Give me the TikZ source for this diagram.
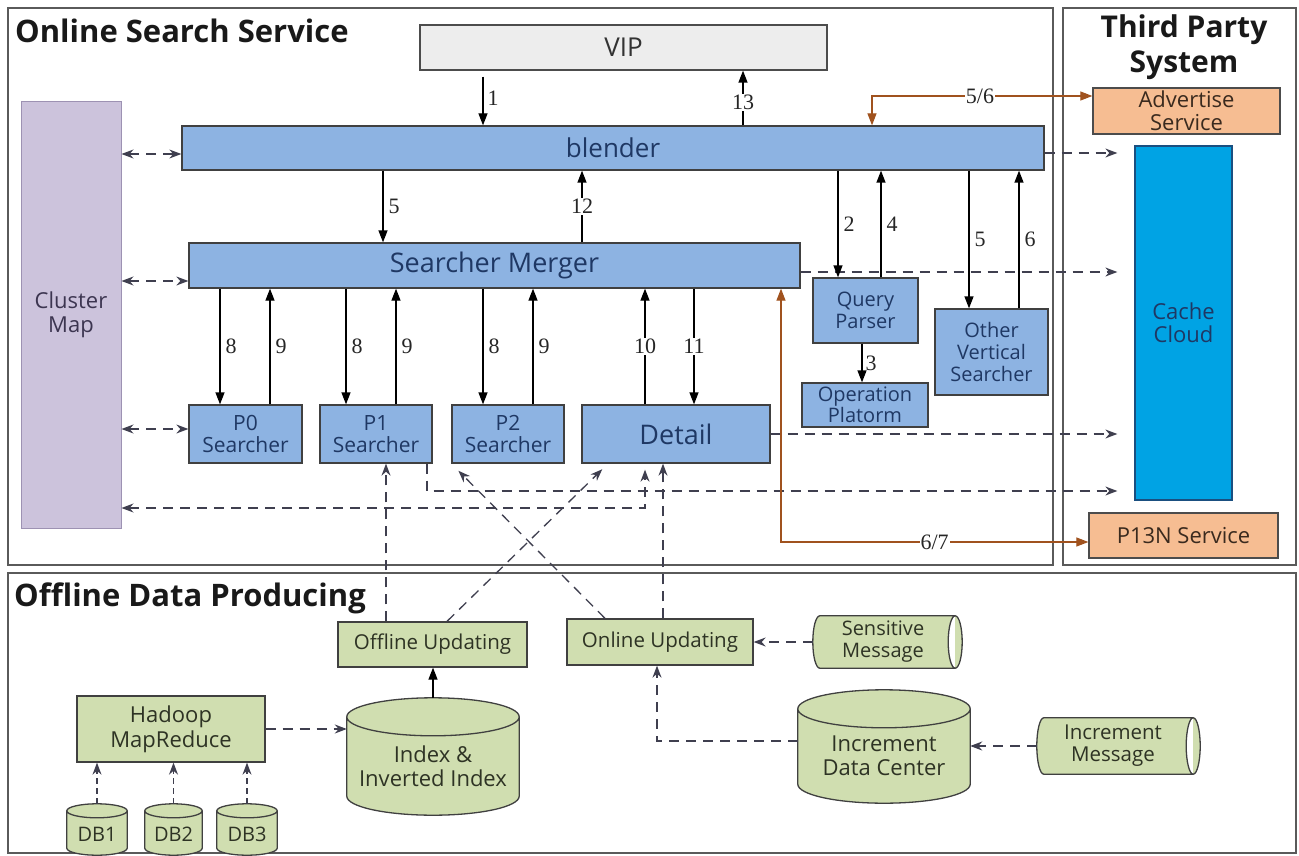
\documentclass[tikz,border=0pt]{standalone}
\usepackage{fontspec}
\setmainfont{Open Sans}
\newfontfamily\numfont{Liberation Serif}
\usetikzlibrary{arrows.meta,calc}
\definecolor{boxblue}{HTML}{8DB3E2}
\definecolor{navy}{HTML}{1F3864}
\definecolor{boxgreen}{HTML}{D0DEB0}
\definecolor{gtext}{HTML}{2E3324}
\definecolor{peach}{HTML}{F6BD92}
\definecolor{otext}{HTML}{3A2A1E}
\definecolor{cachec}{HTML}{00A3E4}
\definecolor{cacheb}{HTML}{1A4F80}
\definecolor{lav}{HTML}{CCC3DC}
\definecolor{lavb}{HTML}{9D92B3}
\definecolor{lavt}{HTML}{3C3550}
\definecolor{vipgray}{HTML}{EDEDED}
\definecolor{brownarr}{HTML}{A0521E}
\definecolor{dashc}{HTML}{3F3F4F}
\definecolor{framec}{HTML}{5A5A5A}

\newcommand\vcylinder[2]{%
 \filldraw[cyl] let \p1=(#1.north west), \p2=(#1.south east), \n1={(\x2-\x1)/2} in
 (\x1,\y1-#2) -- (\x1,\y2+#2) arc[start angle=180,end angle=360,x radius={\n1*1pt},y radius=#2]
 -- (\x2,\y1-#2) arc[start angle=0,end angle=180,x radius={\n1*1pt},y radius=#2] -- cycle
 (\x1,\y1-#2) arc[start angle=180,end angle=360,x radius={\n1*1pt},y radius=#2];}
\newcommand\hcylinder[2]{%
 \filldraw[cyl] let \p1=(#1.north west), \p2=(#1.south east), \n1={(\y1-\y2)/2} in
 (\x1+#2,\y1) -- (\x2-#2,\y1) arc[start angle=90,end angle=-90,x radius=#2,y radius={\n1*1pt}]
 -- (\x1+#2,\y2) arc[start angle=270,end angle=90,x radius=#2,y radius={\n1*1pt}] -- cycle
 (\x2-#2,\y1) arc[start angle=90,end angle=270,x radius=#2,y radius={\n1*1pt}];}

\tikzset{
 bbox/.style={draw=black!75, line width=1.3pt, fill=boxblue, text=navy, align=center, inner sep=0pt, font=\fontsize{21}{22}\selectfont},
 gbox/.style={draw=black!75, line width=1.3pt, fill=boxgreen, text=gtext, align=center, inner sep=0pt, font=\fontsize{20.5}{23}\selectfont},
 obox/.style={draw=black!70, line width=1.3pt, fill=peach, text=otext, align=center, inner sep=0pt, font=\fontsize{22}{23}\selectfont},
 ghost/.style={draw=none, inner sep=0pt},
 gtxt/.style={text=gtext, align=center, inner sep=0pt, font=\fontsize{20}{22}\selectfont},
 cyl/.style={draw=black!75, line width=1.3pt, fill=boxgreen},
 num/.style={font=\numfont\fontsize{22}{22}\selectfont, text=black!85, inner sep=1pt},
 arr/.style={line width=1.3pt, -{Triangle[length=12pt,width=9pt]}},
 darr/.style={line width=1.3pt, draw=dashc, dash pattern=on 10pt off 7pt, -{Stealth[length=12pt,width=9pt]}},
 ddarr/.style={darr, {Stealth[length=12pt,width=9pt]}-{Stealth[length=12pt,width=9pt]}},
 barr/.style={line width=1.2pt, draw=brownarr, {Triangle[length=12pt,width=9pt]}-{Triangle[length=12pt,width=9pt]}},
 frame/.style={draw=framec, line width=1.8pt},
 ttl/.style={inner sep=0pt, text=black!90, font=\bfseries\fontsize{31}{35}\selectfont},
}

\begin{document}
\begin{tikzpicture}[x=1pt,y=-1pt]
\useasboundingbox (0,0) rectangle (1299,856);

% frames
\draw[frame] (8,8) rectangle (1053,565);
\draw[frame] (1063,8) rectangle (1296,565);
\draw[frame] (8,573) rectangle (1296,853);

% titles
\node[ttl, anchor=west] (t1) at (15,31) {Online Search Service};
\node[ttl, align=center, font=\bfseries\fontsize{30}{35}\selectfont] (t2) at (1184,47) {Third Party\\System};
\node[ttl, anchor=west] (t3) at (14,598) {Offline Data Producing};

% guides
\coordinate (g1) at (483,0);
\coordinate (g13) at (743,0);
\coordinate (g56) at (872,0);
\coordinate (g383) at (383,0);
\coordinate (g582) at (582,0);
\coordinate (g838) at (838,0);
\coordinate (g881) at (881,0);
\coordinate (g969) at (969,0);
\coordinate (g1019) at (1019,0);
\coordinate (g862) at (862,0);
\coordinate (g220) at (220,0);
\coordinate (g270) at (270,0);
\coordinate (g346) at (346,0);
\coordinate (g396) at (396,0);
\coordinate (g483) at (483,0);
\coordinate (g533) at (533,0);
\coordinate (g645) at (645,0);
\coordinate (g694) at (694,0);
\coordinate (g781) at (781,0);
\coordinate (g427) at (427,0);
\coordinate (g386) at (386,0);
\coordinate (g447) at (447,0);
\coordinate (g608) at (608,0);
\coordinate (g605) at (605,0);
\coordinate (g663) at (663,0);
\coordinate (g657) at (657,0);
\coordinate (h96) at (0,96);
\coordinate (h154) at (0,154);
\coordinate (h153) at (0,153);
\coordinate (h281) at (0,281);
\coordinate (h272) at (0,272);
\coordinate (h429) at (0,429);
\coordinate (h491) at (0,491);
\coordinate (h508) at (0,508);
\coordinate (h542) at (0,542);
\coordinate (h741) at (0,741);

% online boxes
\node[draw=black!70, line width=1.3pt, fill=vipgray, text=black!80, inner sep=0pt, font=\fontsize{26}{28}\selectfont, minimum width=407pt, minimum height=45pt] (vip) at (623.5,47.5) {VIP};
\node[bbox, minimum width=862pt, minimum height=44pt, font=\fontsize{26}{28}\selectfont] (blender) at (613,148) {blender};
\node[bbox, minimum width=611pt, minimum height=45pt, font=\fontsize{27}{29}\selectfont] (merger) at (494.5,265.5) {Searcher Merger};
\node[draw=lavb, line width=1pt, fill=lav, text=lavt, align=center, inner sep=0pt, font=\fontsize{22}{24}\selectfont, minimum width=100pt, minimum height=426pt] (cluster) at (71,315) {Cluster\\Map};
\node[bbox, minimum width=113pt, minimum height=58pt] (p0) at (245.5,434) {P0\\Searcher};
\node[bbox, minimum width=112pt, minimum height=58pt] (p1) at (376,434) {P1\\Searcher};
\node[bbox, minimum width=112pt, minimum height=58pt] (p2) at (508,434) {P2\\Searcher};
\node[bbox, minimum width=188pt, minimum height=58pt, font=\fontsize{27}{29}\selectfont] (detail) at (676,434) {Detail};
\node[bbox, minimum width=105pt, minimum height=65pt, font=\fontsize{20}{22}\selectfont] (qp) at (865.5,310.5) {Query\\Parser};
\node[bbox, minimum width=126pt, minimum height=44pt, font=\fontsize{20}{21}\selectfont] (op) at (865,405) {Operation\\Platorm};
\node[bbox, minimum width=113pt, minimum height=86pt, font=\fontsize{20}{22}\selectfont] (ovs) at (991.5,352) {Other\\Vertical\\Searcher};

% third party
\node[obox, minimum width=187pt, minimum height=46pt] (adv) at (1186.5,111) {Advertise\\Service};
\node[draw=cacheb, line width=1.3pt, fill=cachec, text=navy, align=center, inner sep=0pt, font=\fontsize{22}{23}\selectfont, minimum width=97pt, minimum height=354pt] (cache) at (1183.5,323) {Cache\\Cloud};
\node[obox, minimum width=189pt, minimum height=45pt] (p13n) at (1183.5,535.5) {P13N Service};

% offline boxes
\node[gbox, minimum width=189pt, minimum height=45pt] (offup) at (432.5,644.5) {Offline Updating};
\node[gbox, minimum width=186pt, minimum height=46pt] (onup) at (660,642) {Online Updating};
\node[gbox, minimum width=188pt, minimum height=66pt, font=\fontsize{22}{25}\selectfont] (had) at (171,729) {Hadoop\\MapReduce};

% cylinders
\node[ghost, minimum width=149pt, minimum height=52pt] (sens) at (887.5,642) {};
\hcylinder{sens}{7pt}
\node[gtxt] (senst) at (883,642) {Sensitive\\Message};
\node[ghost, minimum width=163pt, minimum height=56pt] (incm) at (1118.5,746) {};
\hcylinder{incm}{7pt}
\node[gtxt, font=\fontsize{20.5}{22}\selectfont] (incmt) at (1113,746) {Increment\\Message};
\node[ghost, minimum width=172pt, minimum height=117pt] (idx) at (433,756.5) {};
\vcylinder{idx}{19pt}
\node[gtxt, font=\fontsize{22}{24}\selectfont] (idxt) at (433,766) {Index \&\\Inverted Index};
\node[ghost, minimum width=172pt, minimum height=113pt] (idc) at (884,746.5) {};
\vcylinder{idc}{19pt}
\node[gtxt, font=\fontsize{22}{24}\selectfont] (idct) at (884,756) {Increment\\Data Center};
\node[ghost, minimum width=60pt, minimum height=51pt] (db1) at (97,829.5) {};
\vcylinder{db1}{7pt}
\node[gtxt] (db1t) at (97,834) {DB1};
\node[ghost, minimum width=57pt, minimum height=51pt] (db2) at (173.5,829.5) {};
\vcylinder{db2}{7pt}
\node[gtxt] (db2t) at (173.5,834) {DB2};
\node[ghost, minimum width=60pt, minimum height=51pt] (db3) at (247,829.5) {};
\vcylinder{db3}{7pt}
\node[gtxt] (db3t) at (247,834) {DB3};

% online connectors
\draw[arr, shorten <=6pt] (vip.south -| g1) -- (blender.north -| g1) node[midway,right=3pt,num]{1};
\draw[arr] (blender.north -| g13) -- (vip.south -| g13) node[pos=0.42,num,fill=white]{13};
\draw[barr] (blender.north -| g56) -- (g56 |- h96) -- (adv.west |- h96) node[pos=0.49,num,fill=white]{5/6};

\draw[ddarr] (cluster.east |- h154) -- (blender.west |- h154);
\draw[ddarr] (cluster.east |- h281) -- (merger.west |- h281);
\draw[ddarr] (cluster.east |- h429) -- (p0.west |- h429);
\draw[ddarr, shorten >=6pt] (cluster.east |- h508) -| (detail.south -| g645);

\draw[darr, shorten >=17pt] (blender.east |- h153) -- (cache.west |- h153);
\draw[darr, shorten >=17pt] (merger.east |- h272) -- (cache.west |- h272);
\draw[darr, shorten >=17pt] (detail.east) -- (cache.west |- detail.east);
\draw[darr, shorten >=17pt] (p1.south -| g427) |- (cache.west |- h491);

\draw[arr] (blender.south -| g383) -- (merger.north -| g383) node[midway,right=4pt,num]{5};
\draw[arr] (merger.north -| g582) -- (blender.south -| g582) node[midway,num,fill=white]{12};
\draw[arr] (blender.south -| g838) -- (qp.north -| g838) node[midway,right=4pt,num]{2};
\draw[arr] (qp.north -| g881) -- (blender.south -| g881) node[midway,right=4pt,num]{4};
\draw[arr] (blender.south -| g969) -- (ovs.north -| g969) node[midway,right=4pt,num]{5};
\draw[arr] (ovs.north -| g1019) -- (blender.south -| g1019) node[midway,right=4pt,num]{6};
\draw[arr] (qp.south -| g862) -- (op.north -| g862) node[midway,right=2pt,num]{3};

\draw[arr] (merger.south -| g220) -- (p0.north -| g220) node[midway,right=4pt,num]{8};
\draw[arr] (p0.north -| g270) -- (merger.south -| g270) node[midway,right=4pt,num]{9};
\draw[arr] (merger.south -| g346) -- (p1.north -| g346) node[midway,right=4pt,num]{8};
\draw[arr] (p1.north -| g396) -- (merger.south -| g396) node[midway,right=4pt,num]{9};
\draw[arr] (merger.south -| g483) -- (p2.north -| g483) node[midway,right=4pt,num]{8};
\draw[arr] (p2.north -| g533) -- (merger.south -| g533) node[midway,right=4pt,num]{9};
\draw[arr] (detail.north -| g645) -- (merger.south -| g645) node[midway,num,fill=white]{10};
\draw[arr] (merger.south -| g694) -- (detail.north -| g694) node[midway,num,fill=white]{11};
\draw[barr] (merger.south -| g781) -- (g781 |- h542) -- (p13n.west |- h542) node[pos=0.5,num,fill=white]{6/7};

% offline connectors
\draw[darr] (offup.north -| g386) -- (p1.south -| g386);
\draw[darr, shorten >=8pt] (offup.north -| g447) -- (detail.south -| g608);
\draw[darr, shorten >=10pt] (onup.north -| g605) -- (p2.south west);
\draw[darr] (onup.north -| g663) -- (detail.south -| g663);
\draw[darr] (sens.west) -- (onup.east |- sens.west);
\draw[darr] (idc.west |- h741) -| (onup.south -| g657);
\draw[darr] (incm.west) -- (idc.east |- incm.west);
\draw[arr] (idx.north) -- (offup.south -| idx.north);
\draw[darr] (had.east) -- (idx.west |- had.east);
\draw[darr, dash pattern=on 6pt off 4pt] (db1.north) -- (had.south -| db1.north);
\draw[darr, dash pattern=on 6pt off 4pt] (db2.north) -- (had.south -| db2.north);
\draw[darr, dash pattern=on 6pt off 4pt] (db3.north) -- (had.south -| db3.north);
\end{tikzpicture}
\end{document}
